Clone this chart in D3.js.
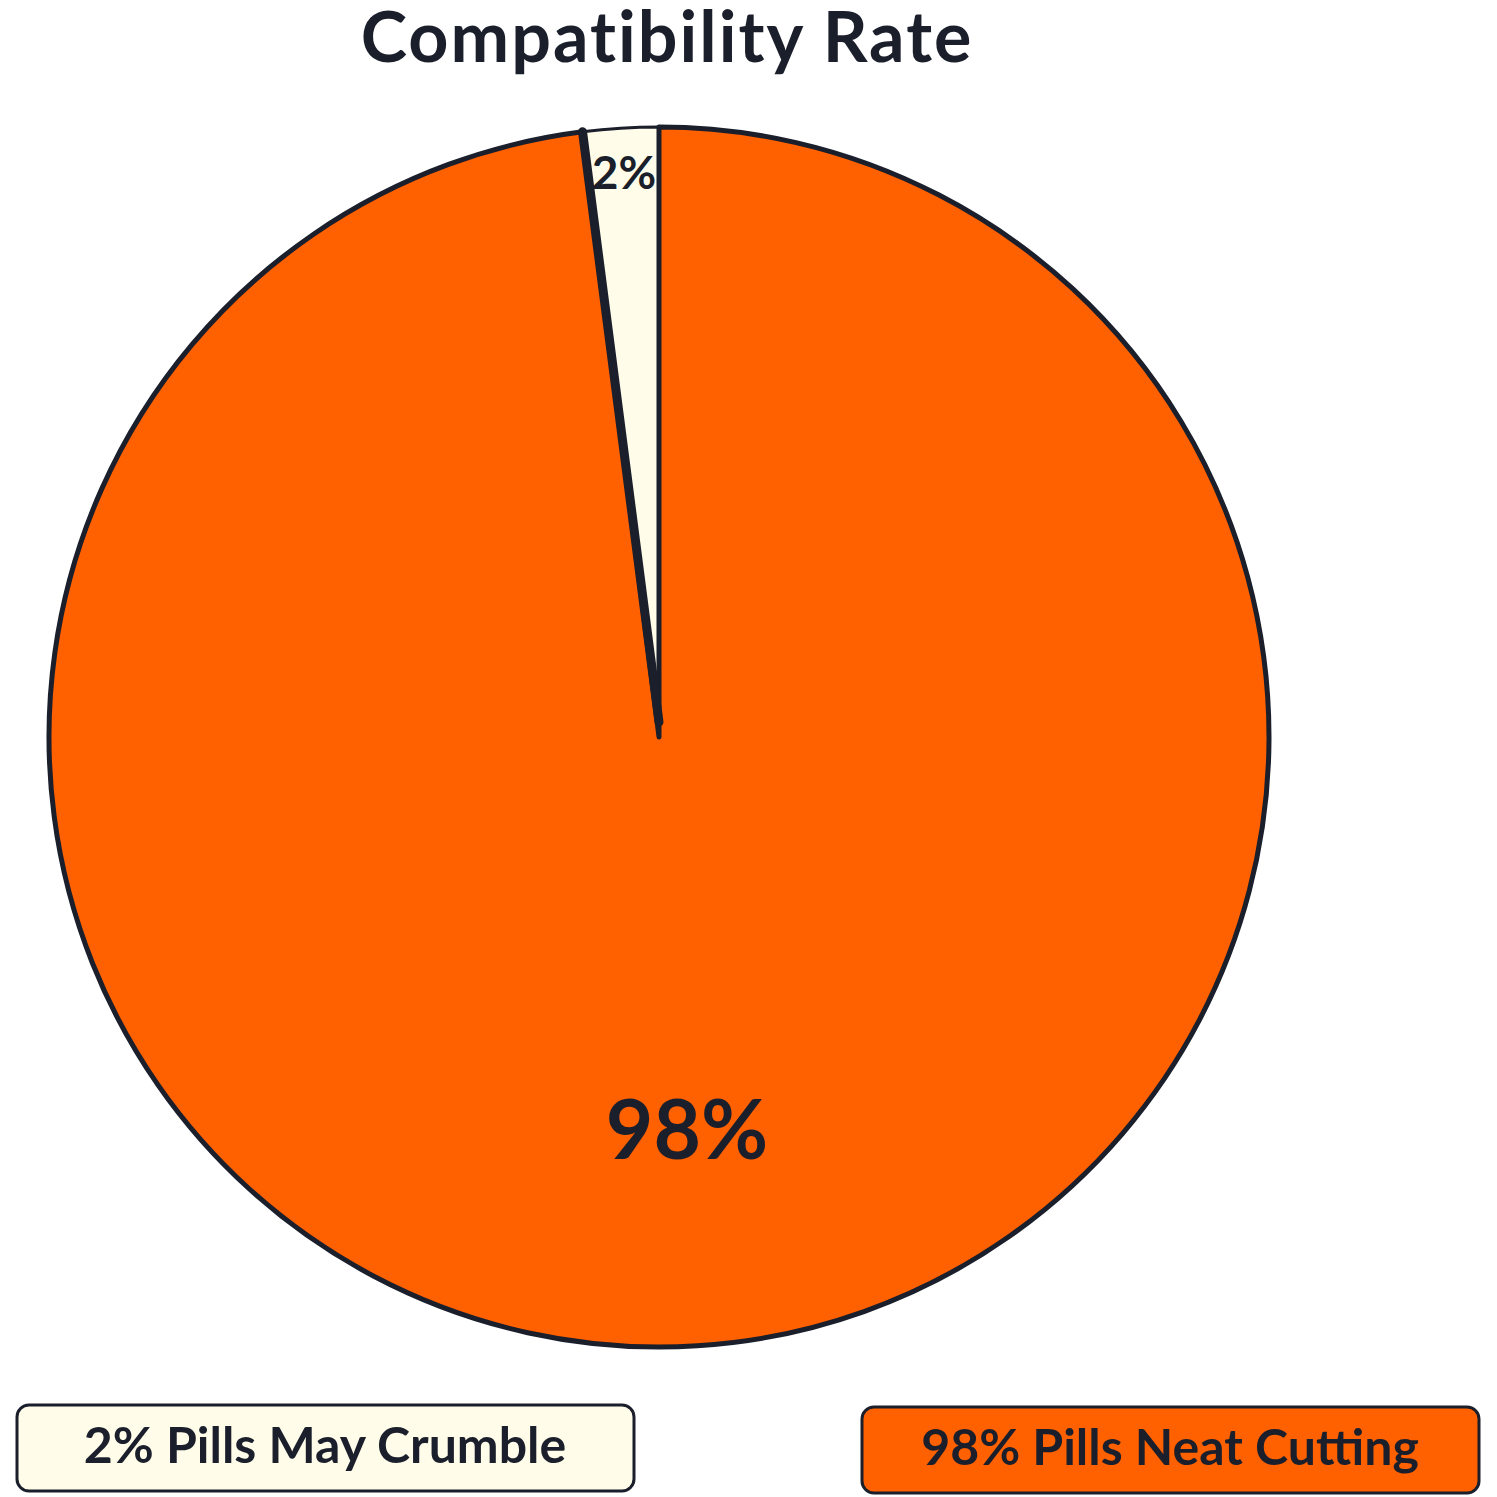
<!DOCTYPE html>
<html><head><meta charset="utf-8">
<script src="https://cdn.jsdelivr.net/npm/d3@7"></script>
<style>body{margin:0;background:#fff}</style>
</head><body>
<svg id="chart" width="1497" height="1497"></svg>
<script>
var labels = ["Pills May Crumble", "Pills Neat Cutting"];
var values = [2, 98];
var colors = ["#fffdea", "#ff6000"];
var ink = "#1b1f2b";

var svg = d3.select("#chart");
var cx = 659, cy = 737, r = 610;

svg.append("text").attr("x", 667).attr("y", 62).attr("text-anchor", "middle")
  .attr("font-family", "Lato").attr("font-weight", "bold").attr("font-size", 70)
  .attr("letter-spacing", 2).attr("fill", ink).text("Compatibility Rate");

// 2% slice sits just left of 12 o'clock, so start it at -2% of the turn
var pie = d3.pie().sort(null).startAngle(-values[0] / 100 * 2 * Math.PI)
  .endAngle(2 * Math.PI - values[0] / 100 * 2 * Math.PI);
var arcs = pie(values);
var arc = d3.arc().innerRadius(0).outerRadius(r);

var g = svg.append("g").attr("transform", "translate(" + cx + "," + cy + ")");
g.selectAll("path").data(arcs).enter().append("path")
  .attr("d", arc).attr("fill", function(d, i) { return colors[i]; })
  .attr("stroke", ink).attr("stroke-width", function(d, i) { return i == 0 ? 3 : 5; })
  .attr("stroke-linejoin", "round");

// heavy separator on the left edge of the small slice
var a0 = arcs[0].startAngle;
g.append("line").attr("x1", 0).attr("y1", -15)
  .attr("x2", r * Math.sin(a0)).attr("y2", -r * Math.cos(a0))
  .attr("stroke", ink).attr("stroke-width", 9).attr("stroke-linecap", "round");

g.append("text").attr("x", -35).attr("y", -548).attr("text-anchor", "middle")
  .attr("font-family", "Lato").attr("font-weight", "bold").attr("font-size", 46)
  .attr("fill", ink).text(values[0] + "%");
g.append("text").attr("x", 28).attr("y", 422).attr("text-anchor", "middle")
  .attr("font-family", "Lato").attr("font-weight", "bold").attr("font-size", 82)
  .attr("fill", ink).text(values[1] + "%");

var boxes = [{x: 17, y: 1405}, {x: 862, y: 1407}];
boxes.forEach(function(b, i) {
  svg.append("rect").attr("x", b.x).attr("y", b.y).attr("width", 617).attr("height", 86)
    .attr("rx", 12).attr("fill", colors[i]).attr("stroke", ink).attr("stroke-width", 3);
  svg.append("text").attr("x", b.x + 308).attr("y", b.y + 58).attr("text-anchor", "middle")
    .attr("font-family", "Lato").attr("font-weight", "bold").attr("font-size", 50)
    .attr("fill", ink).text(values[i] + "% " + labels[i]);
});
</script>
</body></html>
